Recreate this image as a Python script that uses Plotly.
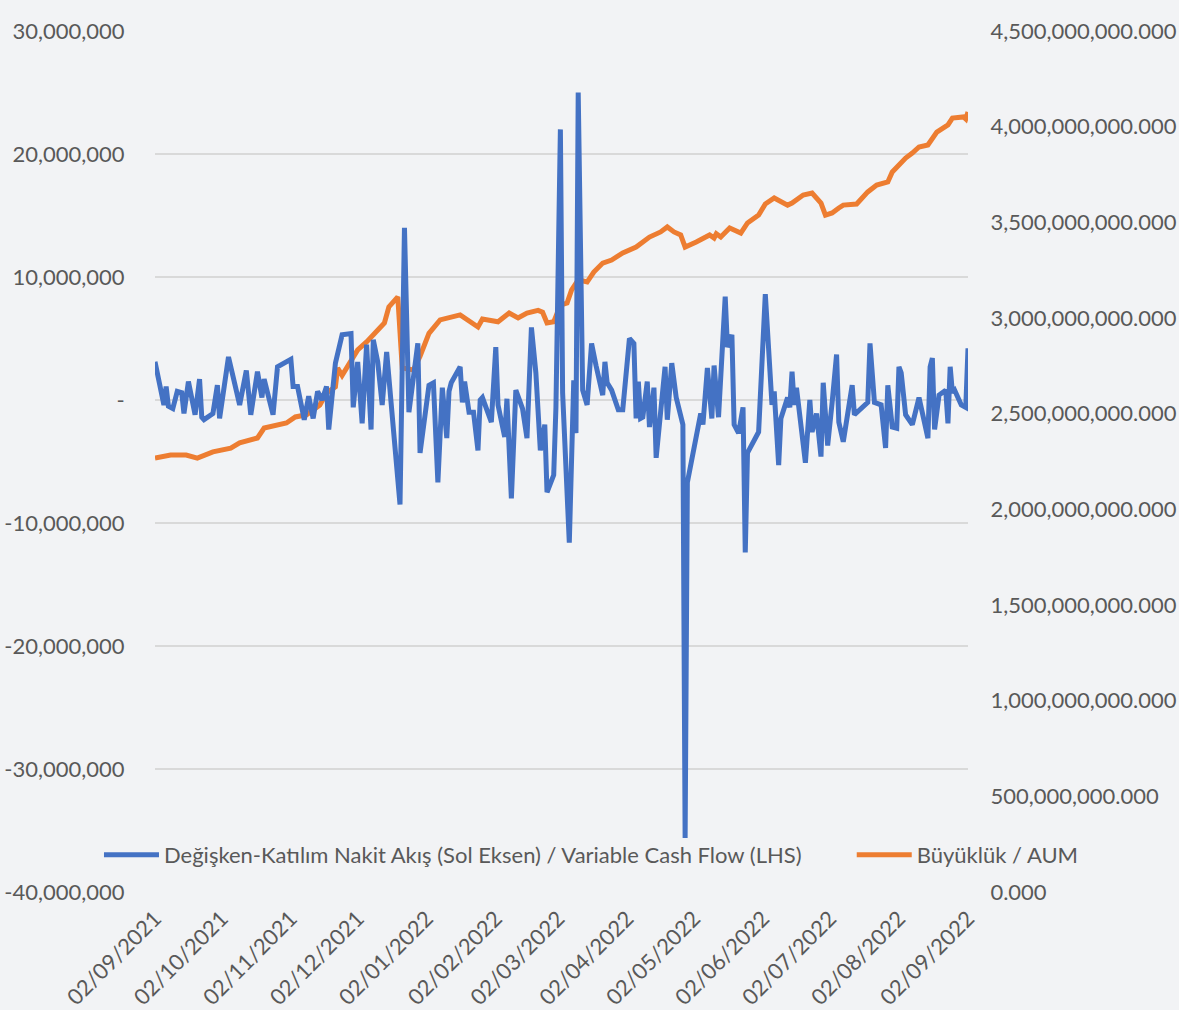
import plotly.graph_objects as go

# ---- Data ----
cf_dates = [
    "2021-09-02","2021-09-06","2021-09-07","2021-09-08","2021-09-10","2021-09-12","2021-09-14","2021-09-15",
    "2021-09-17","2021-09-19","2021-09-20","2021-09-22","2021-09-23","2021-09-24","2021-09-28","2021-09-30",
    "2021-10-01","2021-10-05","2021-10-10","2021-10-13","2021-10-15","2021-10-18","2021-10-20","2021-10-21",
    "2021-10-25","2021-10-27","2021-11-02","2021-11-03","2021-11-05","2021-11-08","2021-11-10","2021-11-12",
    "2021-11-14","2021-11-16","2021-11-18","2021-11-19","2021-11-22","2021-11-25","2021-11-29","2021-11-30",
    "2021-12-02","2021-12-04","2021-12-06","2021-12-08","2021-12-09","2021-12-11","2021-12-13","2021-12-15",
    "2021-12-17","2021-12-21","2021-12-23","2021-12-25","2021-12-29","2021-12-30","2022-01-03","2022-01-05",
    "2022-01-07","2022-01-09","2022-01-11","2022-01-12","2022-01-13","2022-01-17","2022-01-18","2022-01-19",
    "2022-01-21","2022-01-23","2022-01-25","2022-01-26","2022-01-27","2022-01-31","2022-02-02","2022-02-03",
    "2022-02-06","2022-02-07","2022-02-09","2022-02-11","2022-02-14","2022-02-16","2022-02-18","2022-02-20",
    "2022-02-22","2022-02-24","2022-02-25","2022-02-28","2022-03-01","2022-03-03","2022-03-04","2022-03-07",
    "2022-03-09","2022-03-10","2022-03-11","2022-03-13","2022-03-15","2022-03-17","2022-03-19","2022-03-22",
    "2022-03-23","2022-03-24","2022-03-26","2022-03-29","2022-03-31","2022-04-03","2022-04-05","2022-04-06",
    "2022-04-07","2022-04-08","2022-04-09","2022-04-11","2022-04-12","2022-04-14","2022-04-15","2022-04-19",
    "2022-04-20","2022-04-22","2022-04-24","2022-04-27","2022-04-28","2022-04-29","2022-05-05","2022-05-06",
    "2022-05-08","2022-05-10","2022-05-11","2022-05-13","2022-05-16","2022-05-17","2022-05-19","2022-05-20",
    "2022-05-22","2022-05-24","2022-05-25","2022-05-26","2022-05-31","2022-06-01","2022-06-03","2022-06-06",
    "2022-06-07","2022-06-09","2022-06-10","2022-06-13","2022-06-14","2022-06-15","2022-06-16","2022-06-17",
    "2022-06-21","2022-06-23","2022-06-24","2022-06-26","2022-06-28","2022-06-29","2022-07-01","2022-07-03",
    "2022-07-05","2022-07-06","2022-07-08","2022-07-12","2022-07-13","2022-07-19","2022-07-20","2022-07-22",
    "2022-07-25","2022-07-27","2022-07-28","2022-07-30","2022-08-01","2022-08-02","2022-08-03","2022-08-05",
    "2022-08-08","2022-08-11","2022-08-15","2022-08-16","2022-08-17","2022-08-18","2022-08-20","2022-08-23",
    "2022-08-24","2022-08-25","2022-08-26","2022-08-27","2022-08-30","2022-09-01","2022-09-02",
]
cf_values_m = [
    3.1,-0.4,1.1,-0.5,-0.7,0.7,0.6,-1.1,
    1.5,-0.2,-1.2,1.7,-1.4,-1.6,-1.1,1.2,
    -1.5,3.5,-0.4,2.4,-1.2,2.3,0.2,1.7,
    -1.2,2.7,3.3,1.1,1.1,-1.6,0.3,-1.5,
    0.7,0.0,1.1,-2.4,3.0,5.3,5.4,-0.6,
    3.1,-1.9,4.5,-2.4,4.9,3.1,-0.4,3.9,
    -0.2,-8.5,14.0,-1.0,4.6,-4.3,1.2,1.4,
    -6.7,1.0,-3.1,0.7,1.4,2.7,-0.2,1.5,
    -1.0,-1.0,-4.1,0.0,0.2,-1.8,4.3,-0.4,
    -3.0,0.1,-8.0,0.8,-0.7,-3.1,5.9,2.2,
    -4.1,-2.0,-7.5,-6.1,-0.6,22.0,0.6,-11.6,
    1.6,-2.7,25.0,0.8,-0.4,4.6,2.8,0.4,
    3.1,1.4,0.8,-0.8,-0.8,5.0,4.6,-1.5,
    1.5,-1.5,-1.4,1.5,-2.2,1.0,-4.7,2.7,
    -1.6,3.0,0.2,-2.0,-35.6,-6.7,-1.1,-2.0,
    2.6,-1.5,2.8,-1.4,8.4,4.3,5.3,-2.0,
    -2.7,-0.6,-12.4,-4.3,-2.6,1.4,8.6,-0.4,
    0.7,-5.3,-1.5,0.2,-0.6,2.3,-0.4,1.0,
    -5.1,0.0,-2.6,-1.1,-4.6,1.4,-3.7,-0.2,
    3.7,-1.8,-3.4,1.2,-1.2,-0.2,4.6,-0.2,
    -0.4,-3.9,1.2,-2.2,-2.3,2.7,2.2,-1.2,
    -2.0,0.2,-3.1,2.7,3.4,-2.4,0.4,0.8,
    -1.9,2.7,0.6,0.8,-0.4,-0.6,4.2,
]

aum_dates = [
    "2021-09-02","2021-09-09","2021-09-16","2021-09-21","2021-09-28","2021-10-06","2021-10-10","2021-10-18",
    "2021-10-21","2021-10-31","2021-11-04","2021-11-09","2021-11-15","2021-11-18","2021-11-22","2021-11-23",
    "2021-11-25","2021-12-02","2021-12-06","2021-12-14","2021-12-16","2021-12-20","2021-12-22","2021-12-27",
    "2021-12-30","2022-01-03","2022-01-08","2022-01-17","2022-01-25","2022-01-27","2022-02-03","2022-02-08",
    "2022-02-12","2022-02-16","2022-02-21","2022-02-23","2022-02-25","2022-02-28","2022-03-03","2022-03-06",
    "2022-03-08","2022-03-11","2022-03-15","2022-03-18","2022-03-22","2022-03-26","2022-03-31","2022-04-06",
    "2022-04-12","2022-04-17","2022-04-20","2022-04-23","2022-04-26","2022-04-28","2022-05-03","2022-05-09",
    "2022-05-11","2022-05-12","2022-05-14","2022-05-18","2022-05-23","2022-05-26","2022-05-31","2022-06-03",
    "2022-06-07","2022-06-13","2022-06-15","2022-06-20","2022-06-24","2022-06-28","2022-06-30","2022-07-03",
    "2022-07-06","2022-07-08","2022-07-14","2022-07-19","2022-07-23","2022-07-28","2022-07-30","2022-08-05",
    "2022-08-08","2022-08-11","2022-08-15","2022-08-19","2022-08-24","2022-08-26","2022-08-31","2022-09-01",
    "2022-09-02",
]
aum_values_b = [
    2268,2284,2284,2268,2300,2320,2347,2373,
    2425,2451,2483,2494,2545,2608,2640,2739,
    2700,2833,2875,2974,3058,3110,2739,2728,
    2800,2920,2990,3016,2953,2995,2980,3026,
    3000,3026,3040,3030,2974,2980,3068,3078,
    3146,3199,3188,3240,3287,3303,3340,3371,
    3423,3450,3476,3450,3434,3371,3397,3434,
    3418,3440,3423,3470,3444,3497,3538,3596,
    3627,3590,3601,3643,3653,3601,3538,3549,
    3575,3590,3596,3659,3695,3711,3763,3836,
    3862,3894,3904,3972,4009,4045,4051,4040,
    4077,
]

x_ticks = ["2021-09-02","2021-10-02","2021-11-02","2021-12-02","2022-01-02","2022-02-02","2022-03-02",
           "2022-04-02","2022-05-02","2022-06-02","2022-07-02","2022-08-02","2022-09-02"]
left_ticks = [30e6, 20e6, 10e6, 0, -10e6, -20e6, -30e6, -40e6]
right_ticks = [i * 0.5e9 for i in range(10)]

series_cf_name = "Değişken-Katılım Nakit Akış (Sol Eksen) / Variable Cash Flow (LHS)"
series_aum_name = "Büyüklük / AUM"

# ---- Build ----
cf_values = [v * 1e6 for v in cf_values_m]
aum_values = [v * 1e6 for v in aum_values_b]

def fmt_left(v):
    return "-" if v == 0 else f"{v:,.0f}"

x_text = [f"{d[8:10]}/{d[5:7]}/{d[0:4]}" for d in x_ticks]

FONT = "Lato"
GREY = "#595959"
BG = "#f2f3f5"
FS = 22

fig = go.Figure()
fig.add_trace(go.Scatter(
    x=aum_dates, y=aum_values, name=series_aum_name, mode="lines",
    line=dict(color="#ED7D31", width=5), yaxis="y", legend="legend2",
))
fig.add_trace(go.Scatter(
    x=cf_dates, y=cf_values, name=series_cf_name, mode="lines",
    line=dict(color="#4472C4", width=5), yaxis="y2", legend="legend",
))

leg_common = dict(orientation="h", yanchor="middle", xanchor="left", y=0.043,
                  bgcolor="rgba(0,0,0,0)", font=dict(size=FS, color=GREY), itemwidth=55)

fig.update_layout(
    width=1179, height=1010,
    margin=dict(l=155, r=211, t=31, b=118),
    paper_bgcolor=BG, plot_bgcolor=BG,
    font=dict(family=FONT, size=FS, color=GREY),
    showlegend=True,
    legend=dict(x=-0.0689, **leg_common),
    legend2=dict(x=0.857, **leg_common),
    xaxis=dict(
        type="date", range=[x_ticks[0], x_ticks[-1]],
        tickvals=x_ticks, ticktext=x_text, tickangle=-45,
        showgrid=False, zeroline=False, showline=False, automargin=False,
        ticks="outside", ticklen=4, tickcolor="rgba(0,0,0,0)",
    ),
    yaxis=dict(
        side="right", range=[0, 4.5e9],
        tickvals=right_ticks, ticktext=[f"{v:,.3f}" for v in right_ticks],
        showgrid=False, zeroline=False, showline=False, automargin=False,
        ticks="outside", ticklen=17, tickcolor="rgba(0,0,0,0)",
    ),
    yaxis2=dict(
        side="left", overlaying="y", range=[-40e6, 30e6],
        tickvals=left_ticks, ticktext=[fmt_left(v) for v in left_ticks],
        showgrid=True, gridcolor="#d9d9d9", gridwidth=2,
        zeroline=False, showline=False, automargin=False,
        ticks="outside", ticklen=25, tickcolor="rgba(0,0,0,0)",
    ),
)

fig.write_html(
    "out.html",
    config={"displayModeBar": False},
    post_script="document.body.style.margin='0';document.body.style.background='%s';" % BG,
)
